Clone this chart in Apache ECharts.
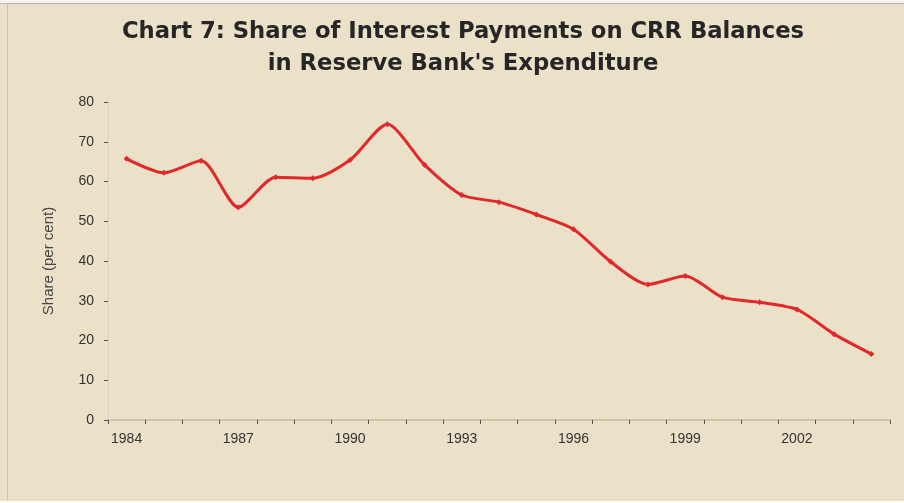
<!DOCTYPE html>
<html>
<head>
<meta charset="utf-8">
<script src="https://cdn.jsdelivr.net/npm/echarts@6/dist/echarts.min.js"></script>
<style>
  html, body { margin: 0; padding: 0; background: #ffffff; }
  #chart { width: 904px; height: 503px; }
</style>
</head>
<body>
<div id="chart"></div>
<script>
const years = ['1984', '1985', '1986', '1987', '1988', '1989', '1990', '1991', '1992', '1993',
    '1994', '1995', '1996', '1997', '1998', '1999', '2000', '2001', '2002', '2003', '2004'];
const shareValues = [65.7, 62.2, 65.2, 53.5, 61.1, 60.8, 65.4, 74.4, 64.2, 56.6,
    54.8, 51.7, 48.0, 39.8, 34.1, 36.2, 30.9, 29.6, 27.8, 21.6, 16.6];
const titleText = 'Chart 7: Share of Interest Payments on CRR Balances\nin Reserve Bank\'s Expenditure';
const yName = 'Share (per cent)';

const myChart = echarts.init(document.getElementById('chart'));
const option = {
    backgroundColor: '#ebe1c9',
    animation: false,
    title: {
        text: titleText,
        left: 458,
        textAlign: 'center',
        top: 11,
        textStyle: {
            fontFamily: 'DejaVu Sans',
            fontSize: 22.7,
            fontWeight: 'bold',
            color: '#262626',
            lineHeight: 32
        }
    },
    graphic: [
        {type: 'rect', shape: {x: 0, y: 0, width: 904, height: 3}, style: {fill: '#f4f4f2'}},
        {type: 'line', shape: {x1: 0, y1: 3.5, x2: 904, y2: 3.5}, style: {stroke: '#b5b3ad', lineWidth: 1}},
        {type: 'line', shape: {x1: 7.5, y1: 3, x2: 7.5, y2: 501}, style: {stroke: '#c8c3b6', lineWidth: 1}},
        {type: 'rect', shape: {x: 0, y: 501, width: 904, height: 2}, style: {fill: '#ffffff'}}
    ],
    grid: {
        left: 108,
        right: 14,
        top: 102,
        bottom: 83
    },
    xAxis: {
        type: 'category',
        data: years,
        boundaryGap: true,
        axisLine: {lineStyle: {color: '#cdc4ad', width: 2}},
        axisTick: {
            show: true,
            interval: 0,
            length: 4,
            lineStyle: {color: '#555', width: 1}
        },
        axisLabel: {
            interval: 2,
            margin: 12,
            color: '#333',
            fontFamily: 'Liberation Sans',
            fontSize: 14
        },
        splitLine: {show: false}
    },
    yAxis: {
        type: 'value',
        min: 0,
        max: 80,
        interval: 10,
        name: yName,
        nameLocation: 'middle',
        nameGap: 52,
        nameTextStyle: {
            color: '#444',
            fontFamily: 'Liberation Sans',
            fontSize: 15
        },
        axisLine: {show: true, lineStyle: {color: '#ddd3bc', width: 1}},
        axisTick: {show: true, length: 4, lineStyle: {color: '#555'}},
        axisLabel: {
            margin: 14,
            color: '#333',
            fontFamily: 'Liberation Sans',
            fontSize: 14
        },
        splitLine: {show: false}
    },
    series: [
        {
            type: 'line',
            data: shareValues,
            smooth: 0.25,
            symbol: 'diamond',
            symbolSize: 6,
            lineStyle: {color: '#e1282b', width: 3},
            itemStyle: {color: '#e1282b'}
        }
    ]
};
myChart.setOption(option);
</script>
</body>
</html>
